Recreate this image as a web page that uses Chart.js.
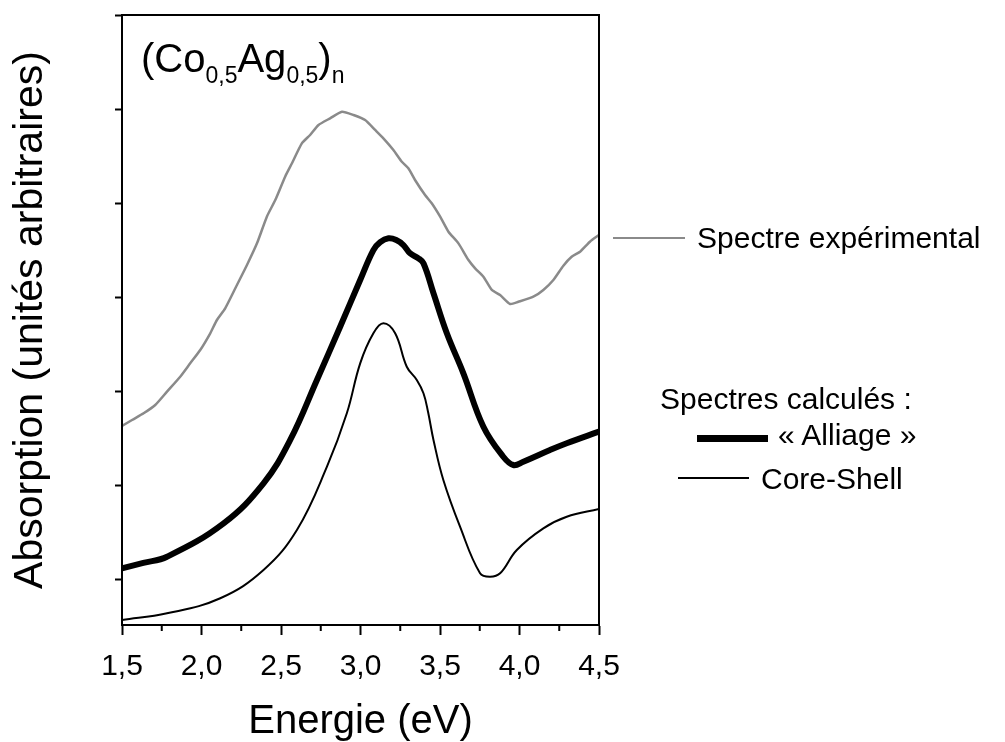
<!DOCTYPE html>
<html lang="fr">
<head>
  <meta charset="UTF-8">
  <meta name="viewport" content="width=device-width, initial-scale=1.0">
  <title>Absorption (Co0,5Ag0,5)n</title>
  <style>
    body { margin: 0; background: #fff; }
    .wrap {
      position: relative; width: 1005px; height: 742px;
      font-family: "Liberation Sans", Arial, sans-serif; color: #000;
    }
    canvas { position: absolute; left: 0; top: 0; }
    .txt { position: absolute; white-space: nowrap; font-size: 30px; line-height: 30px; }
    .formule { position: absolute; left: 141px; top: 38px; font-size: 40px; line-height: 40px; white-space: nowrap; }
    .formule sub { font-size: 23px; vertical-align: -11px; line-height: 0; }
    .trait { position: absolute; }
  </style>
</head>

<body>
  <div class="wrap">
    <canvas id="spectres" width="1005" height="742"></canvas>

    <div class="formule">(Co<sub>0,5</sub>Ag<sub>0,5</sub>)<sub>n</sub></div>

    <div class="trait" style="left:613px; top:236.5px; width:72px; height:2.5px; background:#8a8a8a;"></div>
    <div class="txt" style="left:697px; top:223px;">Spectre expérimental</div>

    <div class="txt" style="left:660px; top:384px;">Spectres calculés :</div>
    <div class="trait" style="left:697px; top:434.5px; width:71px; height:7px; background:#000;"></div>
    <div class="txt" style="left:778px; top:420px;">« Alliage »</div>
    <div class="trait" style="left:678px; top:477px; width:71px; height:2px; background:#000;"></div>
    <div class="txt" style="left:761px; top:464px;">Core-Shell</div>
  </div>

  <script src="https://cdn.jsdelivr.net/npm/chart.js"></script>
  <script>
    // spectre expérimental (eV / unités arbitraires)
    const energieExp = [1.500, 1.563, 1.636, 1.709, 1.783, 1.866, 1.929, 1.992, 2.055, 2.097, 2.149, 2.223, 2.286, 2.349, 2.411, 2.464, 2.526, 2.569, 2.631, 2.683, 2.736, 2.809, 2.883, 2.956, 3.029, 3.092, 3.144, 3.207, 3.260, 3.301, 3.343, 3.406, 3.448, 3.501, 3.553, 3.616, 3.679, 3.721, 3.773, 3.826, 3.878, 3.941, 3.993, 4.087, 4.150, 4.213, 4.276, 4.328, 4.381, 4.443, 4.500];
    const absExp = [1.635, 1.699, 1.770, 1.858, 2.000, 2.159, 2.301, 2.442, 2.620, 2.761, 2.885, 3.133, 3.345, 3.575, 3.858, 4.035, 4.283, 4.425, 4.637, 4.726, 4.832, 4.903, 4.973, 4.938, 4.885, 4.779, 4.690, 4.566, 4.442, 4.372, 4.248, 4.088, 4.000, 3.858, 3.699, 3.575, 3.398, 3.310, 3.221, 3.080, 3.026, 2.931, 2.955, 3.008, 3.080, 3.186, 3.338, 3.433, 3.486, 3.592, 3.664];

    // spectre calculé « Alliage »
    const energieAlliage = [1.500, 1.634, 1.783, 2.139, 2.390, 2.558, 2.726, 2.872, 2.998, 3.081, 3.124, 3.176, 3.225, 3.270, 3.312, 3.362, 3.396, 3.459, 3.543, 3.647, 3.773, 3.898, 3.961, 4.024, 4.192, 4.297, 4.500];
    const absAlliage = [0.124, 0.181, 0.247, 0.602, 1.027, 1.487, 2.124, 2.690, 3.186, 3.504, 3.589, 3.629, 3.611, 3.557, 3.469, 3.419, 3.363, 3.045, 2.620, 2.195, 1.628, 1.309, 1.221, 1.256, 1.380, 1.452, 1.575];

    // spectre calculé Core-Shell
    const energieCoreShell = [1.500, 1.783, 2.118, 2.390, 2.600, 2.789, 2.914, 2.998, 3.081, 3.144, 3.218, 3.291, 3.354, 3.396, 3.425, 3.459, 3.521, 3.626, 3.752, 3.815, 3.878, 3.983, 4.150, 4.297, 4.500];
    const absCoreShell = [-0.425, -0.354, -0.194, 0.106, 0.531, 1.203, 1.770, 2.301, 2.620, 2.726, 2.620, 2.265, 2.124, 1.983, 1.784, 1.487, 1.062, 0.566, 0.071, 0.035, 0.071, 0.319, 0.549, 0.672, 0.754];

    const xTicksMineurs = [1.75, 2.25, 2.75, 3.25, 3.75, 4.25];

    const points = (xs, ys) => xs.map((x, i) => ({ x: x, y: ys[i] }));

    // cadre complet + petites graduations de l'axe des énergies
    const cadre = {
      id: 'cadre',
      afterDraw(chart) {
        const { ctx, chartArea: a, scales } = chart;
        ctx.save();
        ctx.strokeStyle = '#000';
        ctx.lineWidth = 2;
        ctx.strokeRect(a.left, a.top, a.right - a.left, a.bottom - a.top);
        ctx.beginPath();
        xTicksMineurs.forEach(v => {
          const px = scales.x.getPixelForValue(v);
          ctx.moveTo(px, a.bottom);
          ctx.lineTo(px, a.bottom + 6);
        });
        ctx.stroke();
        ctx.restore();
      }
    };

    new Chart(document.getElementById('spectres'), {
      type: 'line',
      data: {
        datasets: [
          {
            label: 'Spectre expérimental',
            data: points(energieExp, absExp),
            borderColor: '#8a8a8a',
            borderWidth: 2.5,
            tension: 0.2
          },
          {
            label: '« Alliage »',
            data: points(energieAlliage, absAlliage),
            borderColor: '#000',
            borderWidth: 6,
            tension: 0.4
          },
          {
            label: 'Core-Shell',
            data: points(energieCoreShell, absCoreShell),
            borderColor: '#000',
            borderWidth: 2,
            tension: 0.4
          }
        ]
      },
      options: {
        responsive: false,
        animation: false,
        layout: { padding: { top: 15, right: 406, left: 0, bottom: 0 } },
        elements: { point: { radius: 0 } },
        plugins: { legend: { display: false }, tooltip: { enabled: false } },
        scales: {
          x: {
            type: 'linear',
            min: 1.5,
            max: 4.5,
            afterFit: s => { s.height = 117; },
            border: { display: true, color: '#000', width: 2 },
            grid: { drawOnChartArea: false, tickLength: 10, tickColor: '#000', tickWidth: 2 },
            ticks: {
              stepSize: 0.5,
              padding: 14,
              color: '#000',
              font: { family: 'Liberation Sans', size: 30 },
              maxRotation: 0,
              callback: v => v.toFixed(1).replace('.', ',')
            },
            title: {
              display: true,
              text: 'Energie (eV)',
              color: '#000',
              font: { family: 'Liberation Sans', size: 40, lineHeight: 1 },
              padding: { top: 0, bottom: 0 }
            }
          },
          y: {
            min: -0.478,
            max: 6,
            afterFit: s => { s.width = 122; },
            border: { display: true, color: '#000', width: 2 },
            grid: { drawOnChartArea: false, tickLength: 7, tickColor: '#000', tickWidth: 2 },
            ticks: { stepSize: 1, includeBounds: false, display: false },
            title: {
              display: true,
              text: 'Absorption (unités arbitraires)',
              color: '#000',
              font: { family: 'Liberation Sans', size: 41, lineHeight: 1.2 },
              padding: { top: 6, bottom: 6 }
            }
          }
        }
      },
      plugins: [cadre]
    });
  </script>
</body>
</html>
